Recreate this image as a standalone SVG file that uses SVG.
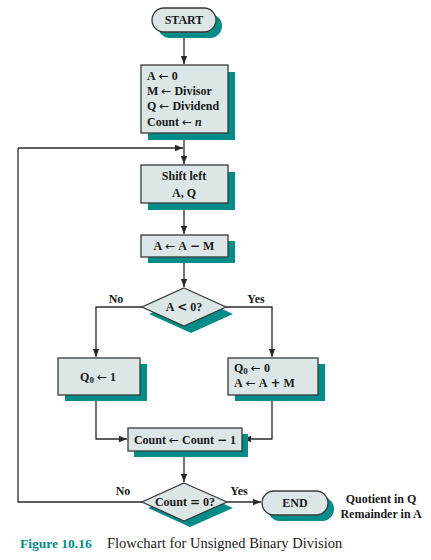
<svg xmlns="http://www.w3.org/2000/svg" width="431" height="560" viewBox="0 0 431 560">
<defs>
<style>
.box{fill:#dce6e6;stroke:#3a3a3a;stroke-width:1.3}
.sh{fill:#008c88}
.t{font-family:"Liberation Serif","Times New Roman",serif;font-weight:bold;font-size:12px;fill:#1a1a1a}
.c{text-anchor:middle}
.ar{font-family:"DejaVu Sans",sans-serif;font-weight:normal;font-size:12px}
.op{font-family:"DejaVu Sans",sans-serif;font-weight:bold;font-size:12px}
.ln{fill:none;stroke:#2a2a2a;stroke-width:1.3}
.cap{font-family:"Liberation Serif","Times New Roman",serif}
</style>
<marker id="ah" viewBox="0 0 10 10" refX="10" refY="5" markerWidth="8" markerHeight="8" markerUnits="userSpaceOnUse" orient="auto">
<path d="M0,1 L10,5 L0,9 Z" fill="#2a2a2a"/>
</marker>
</defs>
<rect width="431" height="560" fill="#fff"/>

<g id="connectors">
<path class="ln" d="M184,32 V64" marker-end="url(#ah)"/>
<path class="ln" d="M184,133 V164" marker-end="url(#ah)"/>
<path class="ln" d="M18,148 H183" marker-end="url(#ah)"/>
<path class="ln" d="M184,203 V234" marker-end="url(#ah)"/>
<path class="ln" d="M184,257 V287" marker-end="url(#ah)"/>
<path class="ln" d="M142,307 H96 V357" marker-end="url(#ah)"/>
<path class="ln" d="M226,307 H272 V357" marker-end="url(#ah)"/>
<path class="ln" d="M96,395 V439 H127" marker-end="url(#ah)"/>
<path class="ln" d="M272,395 V439 H243" marker-end="url(#ah)"/>
<path class="ln" d="M184,451 V482" marker-end="url(#ah)"/>
<path class="ln" d="M142,502 H18 V148"/>
<path class="ln" d="M227,502 H261" marker-end="url(#ah)"/>
<text class="t c" x="116" y="303">No</text>
<text class="t c" x="256" y="303">Yes</text>
<text class="t c" x="123" y="495">No</text>
<text class="t c" x="239" y="495">Yes</text>
</g>

<g id="start">
<rect class="sh" x="158" y="14" width="64" height="24" rx="12"/>
<rect class="box" x="152" y="8" width="64" height="24" rx="12"/>
<text class="t c" x="184" y="24">START</text>
</g>

<g id="init">
<rect class="sh" x="148" y="72" width="87" height="68"/>
<rect class="box" x="141" y="65" width="87" height="68"/>
<text class="t" x="147" y="80">A&#160;<tspan class="ar">←</tspan>&#160;0</text>
<text class="t" x="147" y="95">M&#160;<tspan class="ar">←</tspan>&#160;Divisor</text>
<text class="t" x="147" y="110">Q&#160;<tspan class="ar">←</tspan>&#160;Dividend</text>
<text class="t" x="147" y="126">Count&#160;<tspan class="ar">←</tspan>&#160;<tspan font-style="italic">n</tspan></text>
</g>

<g id="shift">
<rect class="sh" x="148" y="172" width="87" height="38"/>
<rect class="box" x="141" y="165" width="87" height="38"/>
<text class="t c" x="184" y="180">Shift left</text>
<text class="t c" x="184" y="197">A, Q</text>
</g>

<g id="sub">
<rect class="sh" x="148" y="241" width="87" height="22"/>
<rect class="box" x="141" y="235" width="87" height="22"/>
<text class="t c" x="184" y="250">A&#160;<tspan class="ar">←</tspan>&#160;A&#160;<tspan class="op">−</tspan>&#160;M</text>
</g>

<g id="test-a">
<polygon class="sh" points="191,295 233,314 191,333 149,314"/>
<polygon class="box" points="184,288 226,307 184,326 142,307"/>
<text class="t c" x="184" y="311">A&#160;<tspan class="op">&lt;</tspan>&#160;0?</text>
</g>

<g id="q1">
<rect class="sh" x="65" y="364" width="82" height="37"/>
<rect class="box" x="58" y="358" width="82" height="37"/>
<text class="t c" x="98" y="381">Q<tspan font-size="9" dy="2">0</tspan><tspan dy="-2">&#160;</tspan><tspan class="ar">←</tspan>&#160;1</text>
</g>

<g id="q0">
<rect class="sh" x="235" y="364" width="90" height="37"/>
<rect class="box" x="228" y="358" width="90" height="37"/>
<text class="t" x="234" y="372">Q<tspan font-size="9" dy="2">0</tspan><tspan dy="-2">&#160;</tspan><tspan class="ar">←</tspan>&#160;0</text>
<text class="t" x="234" y="387">A&#160;<tspan class="ar">←</tspan>&#160;A&#160;<tspan class="op">+</tspan>&#160;M</text>
</g>

<g id="dec">
<rect class="sh" x="134" y="434" width="114" height="23"/>
<rect class="box" x="128" y="428" width="114" height="23"/>
<text class="t c" x="185" y="444">Count&#160;<tspan class="ar">←</tspan>&#160;Count&#160;<tspan class="op">−</tspan>&#160;1</text>
</g>

<g id="test-count">
<polygon class="sh" points="190,489 233,508 190,527 148,508"/>
<polygon class="box" points="184,483 227,502 184,521 142,502"/>
<text class="t c" x="185" y="506">Count&#160;<tspan class="op">=</tspan>&#160;0?</text>
</g>

<g id="end">
<rect class="sh" x="268" y="497" width="66" height="24" rx="12"/>
<rect class="box" x="262" y="491" width="66" height="24" rx="12"/>
<text class="t c" x="295" y="507">END</text>
</g>

<g id="note">
<text class="t c" x="381" y="503">Quotient in Q</text>
<text class="t c" x="381" y="518">Remainder in A</text>
</g>

<g id="caption">
<text class="cap" x="20" y="548" font-size="13.5" font-weight="bold" fill="#008c88">Figure 10.16</text>
<text class="cap" x="107" y="548" font-size="14.5" fill="#1a1a1a">Flowchart for Unsigned Binary Division</text>
</g>
</svg>
